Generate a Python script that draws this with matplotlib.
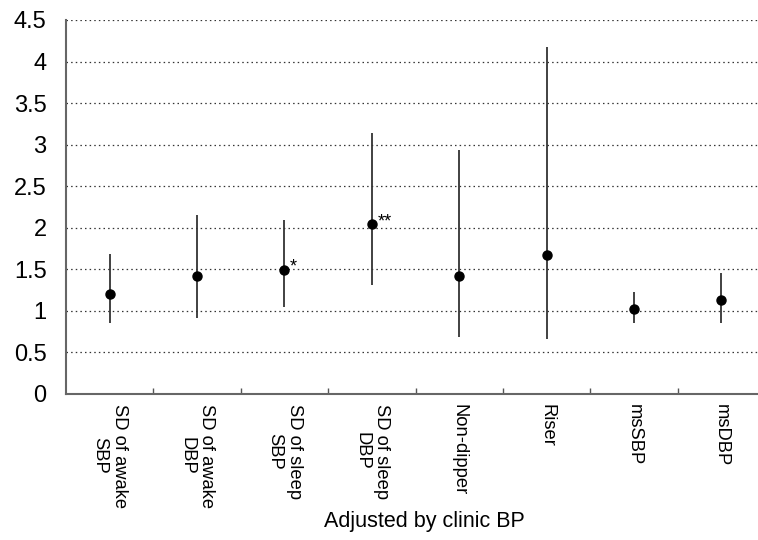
import matplotlib
matplotlib.use("Agg")
import matplotlib.pyplot as plt
import numpy as np

categories = ["SD of awake\nSBP", "SD of awake\nDBP", "SD of sleep\nSBP", "SD of sleep\nDBP",
              "Non-dipper", "Riser", "msSBP", "msDBP"]
estimate = [1.20, 1.42, 1.49, 2.04, 1.42, 1.67, 1.02, 1.13]
lower = [0.85, 0.91, 1.05, 1.31, 0.68, 0.66, 0.85, 0.86]
upper = [1.68, 2.15, 2.09, 3.14, 2.94, 4.17, 1.23, 1.45]
marks = ["", "", "*", "**", "", "", "", ""]
yticks = [0, 0.5, 1, 1.5, 2, 2.5, 3, 3.5, 4, 4.5]
ytick_labels = ["0", "0.5", "1", "1.5", "2", "2.5", "3", "3.5", "4", "4.5"]

plt.rcParams['font.family'] = ['Liberation Sans', 'DejaVu Sans']

fig = plt.figure(figsize=(7.58, 5.4), dpi=100)
ax = fig.add_axes([66/758, 1-394/540, 699/758, 374/540])

x = np.arange(len(categories))
ax.vlines(x, lower, upper, color='#333333', lw=1.3, zorder=3)
ax.plot(x, estimate, 'o', color='black', ms=6.5, zorder=4)
for xi, yi, m in zip(x, estimate, marks):
    if m:
        ax.annotate(m, (xi, yi), xytext=(4, -4), textcoords='offset points',
                    fontsize=13, ha='left', va='bottom')

ax.set_xlim(-0.5, 7.5)
ax.set_ylim(0, 4.5)
ax.set_yticks(yticks)
ax.set_yticklabels(ytick_labels, fontsize=17)
ax.tick_params(axis='y', length=0, pad=14)

ax.set_xticks(x)
ax.set_xticklabels(categories, rotation=270, fontsize=13.2, ha='center', va='top',
                   multialignment='center', linespacing=1.2)
ax.tick_params(axis='x', which='major', length=0, pad=7)
ax.set_xticks(np.arange(0.5, 7.5, 1), minor=True)
ax.tick_params(axis='x', which='minor', direction='in', length=4.5, width=1.0, color='#555555')

ax.yaxis.grid(True, linestyle=(0, (1.2, 2.5)), color='#333333', lw=0.9)
ax.set_axisbelow(True)
for s in ['top', 'right']:
    ax.spines[s].set_visible(False)
for s in ['left', 'bottom']:
    ax.spines[s].set_color('#666666')
    ax.spines[s].set_linewidth(1.5)

fig.text(424/758, 1-522/540, "Adjusted by clinic BP", fontsize=15.5, ha='center', va='center')

fig.savefig("out.png", dpi=100)
